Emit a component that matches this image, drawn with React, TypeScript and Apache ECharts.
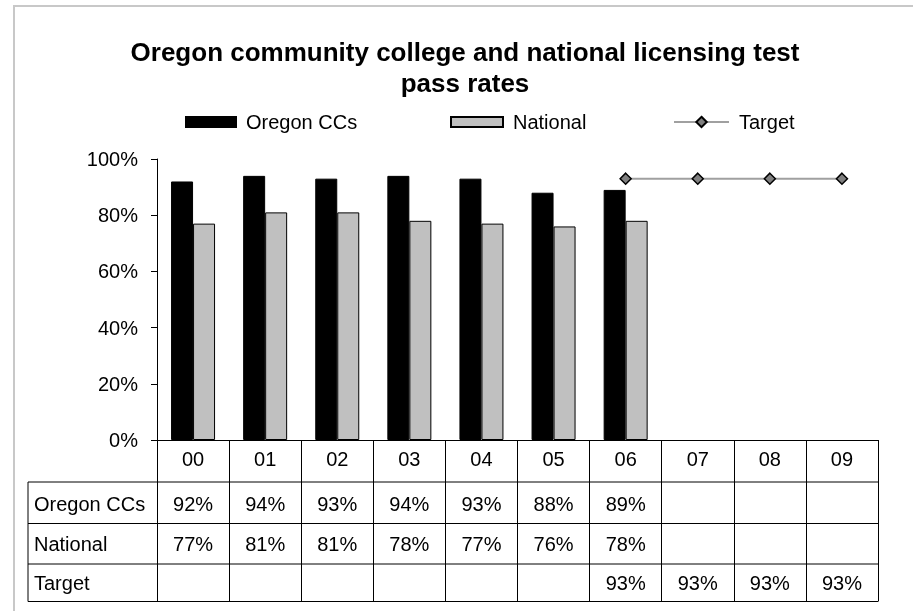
import React, { useEffect, useRef } from "react";
import * as echarts from "echarts";

const categories = ["00", "01", "02", "03", "04", "05", "06", "07", "08", "09"];
const oregonCCs = [0.92, 0.94, 0.93, 0.94, 0.93, 0.88, 0.89, null, null, null];
const national = [0.77, 0.81, 0.81, 0.78, 0.77, 0.76, 0.78, null, null, null];
const target = [null, null, null, null, null, null, 0.93, 0.93, 0.93, 0.93];
const seriesNames = ["Oregon CCs", "National", "Target"];
const yTicks = [0, 0.2, 0.4, 0.6, 0.8, 1.0];

const FONT = "Liberation Sans, Arial, sans-serif";
const GRID_LEFT = 157;
const GRID_TOP = 159;
const GRID_W = 721;
const GRID_H = 281;
const AXIS_Y = GRID_TOP + GRID_H;
const TABLE_LEFT = 28;
const ROW_LINES = [482, 523.5, 564, 601.5];
const ROW_TEXT_Y = [503.5, 543.5, 583];
const LABEL_MARGIN = 9;
const LABEL_HALF = 10;

const pct = (v: number | null) => (v == null ? "" : Math.round(v * 100) + "%");

export default function App() {
  const ref = useRef<HTMLDivElement>(null);
  useEffect(() => {
    if (!ref.current) return;
    const chart = echarts.init(ref.current, null, { renderer: "svg" });
    const rows = [oregonCCs, national, target];
    const rowAxes = rows.map((vals, i) => ({
      type: "category" as const,
      data: categories,
      position: "bottom" as const,
      offset: ROW_TEXT_Y[i] - LABEL_HALF - LABEL_MARGIN - AXIS_Y,
      axisLine: { show: false },
      axisTick: { show: false },
      axisLabel: {
        interval: 0,
        margin: LABEL_MARGIN,
        fontSize: 20,
        fontFamily: FONT,
        color: "#000",
        formatter: (_v: string, idx: number) => pct(vals[idx]),
      },
    }));
    const graphics: any[] = [
      {
        type: "rect",
        shape: { x: 14, y: 6, width: 1200, height: 1200 },
        style: { fill: "none", stroke: "#c8c8c8", lineWidth: 2 },
        silent: true,
      },
    ];
    ROW_LINES.forEach((y) => {
      graphics.push({
        type: "line",
        shape: { x1: TABLE_LEFT, y1: y, x2: GRID_LEFT + GRID_W, y2: y },
        style: { stroke: "#000", lineWidth: 1 },
      });
    });
    graphics.push({
      type: "line",
      shape: { x1: TABLE_LEFT, y1: ROW_LINES[0], x2: TABLE_LEFT, y2: ROW_LINES[3] },
      style: { stroke: "#000", lineWidth: 1 },
    });
    seriesNames.forEach((n, i) => {
      graphics.push({
        type: "text",
        x: 34,
        y: ROW_TEXT_Y[i],
        style: { text: n, fontSize: 20, fontFamily: FONT, fill: "#000", verticalAlign: "middle", align: "left" },
      });
    });

    const legendBase = {
      orient: "horizontal" as const,
      top: 112,
      padding: 0,
      textStyle: { fontSize: 20, fontFamily: FONT, color: "#000", padding: [0, 0, 0, 5] },
    };

    chart.setOption({
      animation: false,
      title: {
        text: "Oregon community college and national licensing test\npass rates",
        left: 465,
        top: 36,
        textAlign: "center",
        padding: 0,
        textStyle: { fontSize: 26, fontWeight: "bold", fontFamily: FONT, color: "#000", lineHeight: 31 },
      },
      legend: [
        { ...legendBase, left: 185, data: [seriesNames[0]], itemWidth: 50, itemHeight: 10, icon: "rect" },
        { ...legendBase, left: 450, data: [seriesNames[1]], itemWidth: 52, itemHeight: 10, icon: "rect" },
        { ...legendBase, left: 673, data: [seriesNames[2]], itemWidth: 55, itemHeight: 13 },
      ],
      grid: { left: GRID_LEFT, top: GRID_TOP, width: GRID_W, height: GRID_H, containLabel: false },
      xAxis: [
        {
          type: "category",
          data: categories,
          position: "bottom",
          axisLine: { show: true, lineStyle: { color: "#000", width: 1 } },
          axisTick: { show: true, interval: 0, length: ROW_LINES[3] - AXIS_Y, lineStyle: { color: "#000", width: 1 } },
          axisLabel: { interval: 0, margin: LABEL_MARGIN, fontSize: 20, fontFamily: FONT, color: "#000" },
        },
        ...rowAxes,
      ],
      yAxis: {
        type: "value",
        min: 0,
        max: 1,
        interval: 0.2,
        axisLine: { show: true, lineStyle: { color: "#000", width: 1 } },
        axisTick: { show: true, length: 6, lineStyle: { color: "#000" } },
        splitLine: { show: false },
        axisLabel: {
          margin: 19,
          fontSize: 20,
          fontFamily: FONT,
          color: "#000",
          formatter: (v: number) => (yTicks.some((t) => Math.abs(t - v) < 1e-6) ? Math.round(v * 100) + "%" : ""),
        },
      },
      series: [
        {
          name: seriesNames[0],
          type: "bar",
          data: oregonCCs,
          barWidth: 22,
          barGap: "0%",
          itemStyle: { color: "#000", borderColor: "#000", borderWidth: 1 },
        },
        {
          name: seriesNames[1],
          type: "bar",
          data: national,
          barWidth: 22,
          barGap: "0%",
          itemStyle: { color: "#c0c0c0", borderColor: "#000", borderWidth: 1 },
        },
        {
          name: seriesNames[2],
          type: "line",
          data: target,
          symbol: "diamond",
          symbolSize: 11,
          showSymbol: true,
          connectNulls: false,
          lineStyle: { color: "#a0a0a0", width: 2 },
          itemStyle: { color: "#808080", borderColor: "#000", borderWidth: 1.5 },
        },
      ],
      graphic: graphics,
    });
    return () => chart.dispose();
  }, []);
  return <div ref={ref} style={{ position: "fixed", left: 0, top: 0, width: 913, height: 611 }} />;
}
